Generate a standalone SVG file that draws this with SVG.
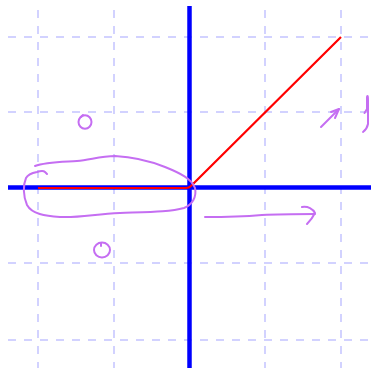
<svg xmlns="http://www.w3.org/2000/svg" width="374" height="368" viewBox="0 0 374 368">
<style>
.grid{stroke:#c4c4ff;stroke-width:1.5;stroke-dasharray:8 8;fill:none}
.axis{stroke:#0000ff;stroke-width:4.5;fill:none}
.fn{stroke:#ff0000;stroke-width:2.2;fill:none;stroke-linejoin:round}
.ink{stroke:#c56ef2;stroke-width:2;fill:none;stroke-linecap:round;stroke-linejoin:round}
</style>
<rect width="374" height="368" fill="#ffffff"/>
<g id="grid">
<path class="grid" d="M38,10V368M114,10V368M265,10V368M341,10V368"/>
<path class="grid" d="M8,37H370M8,112H370M8,263H370M8,340H370"/>
</g>
<g id="axes">
<path class="axis" d="M189.5,6V368"/>
<path class="axis" d="M8,187.5H371"/>
</g>
<g id="relu">
<path class="fn" d="M38,188H186Q189,188 191,186L341,37"/>
</g>
<g id="annotations">
<path class="ink" d="M35,166C45,162 60,162 77,161C90,160 100,156 115,156C135,157 150,161 165,167C180,173 192,179 195,188C197,197 192,205 184,208C170,212 150,212 120,213C95,214 80,218 60,217C45,216 32,214 27,205C23,196 23,185 26,178C28,174 32,173 37,172C40,171 43,170 45,172L47,174"/>
<ellipse class="ink" cx="85" cy="122" rx="6.5" ry="6.8"/>
<path class="ink" d="M81,117L83,115"/>
<ellipse class="ink" cx="102" cy="250" rx="8" ry="7.5"/>
<path class="ink" d="M101,243L101,246"/>
<path class="ink" d="M205,217C230,217 250,216 262,215C280,214 300,214 315,214"/>
<path class="ink" d="M302,207C308,206 313,209 315,213C313,217 310,221 307,224"/>
<path class="ink" d="M321,127L339,109"/>
<path class="ink" d="M331,112L339,109L335,118"/>
<path class="ink" d="M364.5,113L367,109L367,97Q368,94 368,100L368,124Q367,129 363,132"/>
</g>
</svg>
